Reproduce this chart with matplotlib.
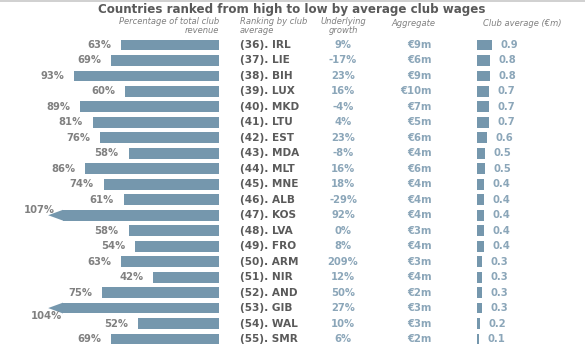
import numpy as np
import matplotlib
matplotlib.use("Agg")
import matplotlib.pyplot as plt
from matplotlib.patches import Polygon
from matplotlib.transforms import blended_transform_factory

plt.rcParams['font.family'] = ['DejaVu Sans']

# data
ranks = [36, 37, 38, 39, 40, 41, 42, 43, 44, 45, 46, 47, 48, 49, 50, 51, 52, 53, 54, 55]
countries = ["IRL", "LIE", "BIH", "LUX", "MKD", "LTU", "EST", "MDA", "MLT", "MNE",
             "ALB", "KOS", "LVA", "FRO", "ARM", "NIR", "AND", "GIB", "WAL", "SMR"]
pct_revenue = [63, 69, 93, 60, 89, 81, 76, 58, 86, 74, 61, 107, 58, 54, 63, 42, 75, 104, 52, 69]
growth = ["9%", "-17%", "23%", "16%", "-4%", "4%", "23%", "-8%", "16%", "18%",
          "-29%", "92%", "0%", "8%", "209%", "12%", "50%", "27%", "10%", "6%"]
aggregate = [9, 6, 9, 10, 7, 5, 6, 4, 6, 4, 4, 4, 3, 4, 3, 4, 2, 3, 3, 2]
club_avg = [0.9, 0.8, 0.8, 0.7, 0.7, 0.7, 0.6, 0.5, 0.5, 0.4,
            0.4, 0.4, 0.4, 0.4, 0.3, 0.3, 0.3, 0.3, 0.2, 0.1]

W, H = 585, 355
bar_col = '#7597ad'
lab_col = '#808080'
val_col = '#8ba6b9'
dark = '#5a5a5a'
fs = 7.2

fig = plt.figure(figsize=(W / 100, H / 100), dpi=100)
fig.patch.set_facecolor('white')

n = len(countries)
y = np.arange(n)
row0, rowN = 45, 339
step = (rowN - row0) / (n - 1)
ylim = (n - 1 + (H - rowN) / step, -row0 / step)

# left panel: % of revenue (bars grow leftwards, capped at 100)
px_per_pct = 1.56
ax_l = fig.add_axes([0, 0, 219 / W, 1])
ax_l.set_xlim(219 / px_per_pct, 0)
ax_l.set_ylim(*ylim)
ax_l.axis('off')
capped = np.minimum(pct_revenue, 100)
bh = 0.7
ax_l.barh(y, capped, height=bh, color=bar_col, left=0)
tip = 109.5
for i, v in enumerate(pct_revenue):
    if v > 100:
        ax_l.add_patch(Polygon([(100, i - bh / 2), (tip, i), (100, i + bh / 2)],
                               closed=True, color=bar_col, lw=0))
        off = (5, 3.5) if i == 11 else (10, -6)
        ax_l.annotate(f"{v}%", (tip, i), xytext=off, textcoords='offset points',
                      ha='right', va='center', fontsize=fs, fontweight='bold', color=lab_col)
    else:
        ax_l.annotate(f"{v}%", (v, i), xytext=(-7, 0), textcoords='offset points',
                      ha='right', va='center', fontsize=fs, fontweight='bold', color=lab_col)

# right panel: club average
px_per_unit = 16.7
ax_c = fig.add_axes([477 / W, 0, (W - 477) / W, 1])
ax_c.set_xlim(0, (W - 477) / px_per_unit)
ax_c.set_ylim(*ylim)
ax_c.axis('off')
ax_c.barh(y, club_avg, height=bh, color=bar_col)
for i, v in enumerate(club_avg):
    ax_c.annotate(f"{v:.1f}", (v, i), xytext=(6, 0), textcoords='offset points',
                  ha='left', va='center', fontsize=fs, fontweight='bold', color=val_col)

# text columns
tr = blended_transform_factory(fig.transFigure, ax_l.transData)
for i in range(n):
    fig.text(240 / W, i, f"({ranks[i]}). {countries[i]}", transform=tr,
             ha='left', va='center', fontsize=7.6, fontweight='bold', color=dark)
    fig.text(343 / W, i, growth[i], transform=tr,
             ha='center', va='center', fontsize=fs, fontweight='bold', color=val_col)
    fig.text(432 / W, i, f"€{aggregate[i]}m", transform=tr,
             ha='right', va='center', fontsize=fs, fontweight='bold', color=val_col)

# headers
hdr = dict(fontsize=6, style='italic', color=lab_col)
fig.text(292 / W, 1 - 10 / H, "Countries ranked from high to low by average club wages",
         ha='center', va='center', fontsize=8.6, fontweight='bold', color=dark)
fig.text(219 / W, 1 - 26 / H, "Percentage of total club\nrevenue", ha='right', va='center',
         linespacing=1.1, **hdr)
fig.text(240 / W, 1 - 26 / H, "Ranking by club\naverage", ha='left', va='center',
         linespacing=1.1, **hdr)
fig.text(343 / W, 1 - 26 / H, "Underlying\ngrowth", ha='center', va='center',
         linespacing=1.1, **hdr)
fig.text(413 / W, 1 - 24 / H, "Aggregate", ha='center', va='center', **hdr)
fig.text(522 / W, 1 - 24 / H, "Club average (€m)", ha='center', va='center', **hdr)

fig.add_artist(plt.Line2D([0, 1], [1 - 1 / H, 1 - 1 / H], transform=fig.transFigure,
                          color='#c8c8c8', lw=1.2))

fig.savefig('out.png', dpi=100, facecolor='white')
